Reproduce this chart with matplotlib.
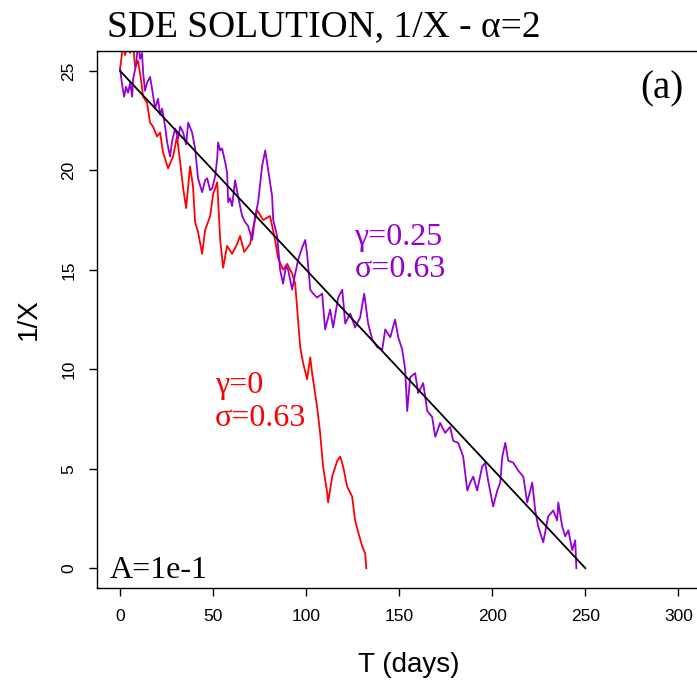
import matplotlib
matplotlib.use("Agg")
import matplotlib.pyplot as plt

# gamma = 0 path (red)
red_t = [0.0, 1.6, 2.7, 4.3, 5.4, 6.5, 8.1, 9.7, 11.3, 12.4, 14.5, 16.1, 17.7, 19.9,
         21.5, 23.1, 25.8, 28.5, 30.6, 32.3, 33.9, 35.5, 37.6, 39.2, 40.3, 41.9,
         44.1, 45.7, 48.4, 50.0, 52.2, 53.8, 55.4, 57.5, 60.2, 62.9, 64.5, 66.7,
         69.9, 71.5, 73.7, 76.9, 80.6, 83.3, 84.9, 87.6, 89.8, 92.5, 94.1, 95.2,
         96.8, 98.4, 100.5, 102.2, 103.2, 105.9, 107.5, 109.1, 111.3, 111.8, 114.0,
         116.7, 118.3, 119.9, 122.0, 124.7, 126.3, 128.0, 130.1, 131.7, 132.3]
red_v = [25.1, 26.3, 25.8, 26.6, 25.9, 26.8, 25.2, 25.5, 24.5, 23.7, 23.4, 22.4, 22.2, 21.7,
         21.9, 20.9, 20.1, 20.7, 21.7, 20.4, 19.1, 18.1, 20.2, 19.2, 17.4, 16.9,
         15.8, 17.0, 17.7, 18.8, 19.4, 16.5, 15.1, 16.2, 15.8, 16.3, 16.7, 15.9,
         16.3, 17.1, 18.0, 17.5, 17.7, 16.5, 15.6, 15.0, 15.3, 14.8, 14.3, 13.0,
         11.1, 10.3, 9.5, 10.6, 9.8, 8.1, 6.8, 5.1, 3.8, 3.3, 4.6,
         5.4, 5.6, 5.1, 4.1, 3.6, 2.4, 1.8, 1.1, 0.75, 0.0]

# gamma = 0.25 path (purple)
pur_t = [0.0, 1.1, 2.2, 3.2, 4.3, 5.4, 6.5, 7.0, 8.6, 9.7, 10.8, 11.8, 12.4, 13.4,
         14.5, 16.1, 17.2, 18.8, 20.4, 21.5, 22.6, 24.2, 25.3, 26.9, 28.0, 29.6,
         31.2, 32.3, 33.9, 35.5, 36.6, 38.7, 40.3, 41.9, 44.1, 45.7, 46.8, 48.4,
         49.5, 51.1, 52.2, 52.7, 53.8, 54.8, 56.5, 57.5, 58.1, 59.1, 60.2, 61.8,
         63.4, 65.6, 67.2, 68.8, 71.0, 72.6, 74.2, 76.3, 78.0, 79.6, 80.6, 81.7,
         82.3, 84.4, 86.0, 87.6, 89.2, 90.3, 92.5, 94.1, 95.7, 97.8, 99.5, 100.5,
         102.2, 103.8, 105.9, 108.6, 110.2, 112.9, 114.5, 117.2, 119.4, 121.0,
         123.7, 126.3, 129.0, 131.2, 133.3, 135.5, 138.2, 140.9, 142.5, 145.2,
         147.8, 149.5, 151.6, 153.2, 154.3, 155.9, 158.6, 160.2, 162.9, 165.1,
         167.7, 169.4, 172.0, 174.7, 177.4, 179.0, 181.7, 184.4, 186.6, 188.2,
         189.8, 191.9, 194.6, 196.2, 197.8, 200.5, 202.7, 204.3, 205.4, 207.0,
         208.6, 211.3, 214.0, 216.7, 218.8, 221.5, 223.1, 224.7, 227.4, 230.1,
         232.8, 234.9, 235.5, 237.6, 239.2, 240.9, 243.0, 244.6, 245.2]
pur_v = [25.1, 24.3, 23.7, 24.2, 23.9, 24.4, 23.7, 24.6, 25.3, 26.4, 25.6, 25.9, 24.9, 24.0,
         24.4, 24.7, 24.1, 23.1, 23.6, 22.8, 23.1, 22.2, 21.4, 20.7, 21.5, 22.1,
         21.6, 22.2, 21.9, 21.3, 22.4, 21.9, 21.1, 19.6, 18.9, 19.5, 19.6, 19.0,
         19.1, 19.7, 20.6, 21.4, 21.0, 21.1, 20.4, 19.9, 18.4, 18.6, 18.2, 19.5,
         18.7, 17.7, 17.4, 17.2, 16.5, 17.7, 18.4, 20.2, 21.0, 20.0, 19.4, 18.7,
         17.5, 16.7, 15.0, 14.3, 15.2, 15.0, 14.0, 14.8, 15.5, 16.1, 16.5, 15.8,
         14.0, 13.8, 13.6, 13.8, 12.0, 13.0, 12.1, 13.6, 14.0, 12.3,
         12.8, 12.1, 12.6, 13.8, 12.3, 11.5, 11.1, 11.0, 12.0, 11.6,
         12.5, 11.6, 11.0, 10.0, 7.9, 9.6, 9.8, 8.8, 9.3, 7.9,
         7.6, 6.6, 7.3, 6.8, 7.1, 6.4, 6.3, 5.6, 3.9, 4.3,
         4.6, 3.9, 5.1, 5.3, 4.4, 3.1, 3.9, 4.3, 5.6, 6.3,
         5.4, 5.3, 4.9, 4.6, 3.3, 4.3, 2.9, 2.1, 1.3, 2.6,
         2.9, 2.4, 3.3, 2.1, 1.6, 1.9, 0.9, 1.4, 0.0]

# deterministic solution
det_t = [0, 250]
det_v = [25, 0]

xticks = [0, 50, 100, 150, 200, 250, 300]
yticks = [0, 5, 10, 15, 20, 25]

serif = "Liberation Serif"
sans = "Liberation Sans"

fig = plt.figure(figsize=(6.97, 6.83), dpi=100)
ax = fig.add_axes([97/697, 95/683, 623/697, 537/683])

ax.plot(red_t, red_v, color="#ff0000", lw=1.3)
ax.plot(pur_t, pur_v, color="#9400d3", lw=1.3)
ax.plot(det_t, det_v, color="black", lw=1.3)

ax.set_xlim(-12.4, 322.4)
ax.set_ylim(-1.0, 26.0)
ax.set_xticks(xticks)
ax.set_yticks(yticks)
ax.tick_params(direction="out", length=6, width=1, labelsize=12.5, pad=9)
for lab in ax.get_xticklabels() + ax.get_yticklabels():
    lab.set_family(sans)
for lab in ax.get_yticklabels():
    lab.set_rotation(90)
    lab.set_va("center")
for s in ax.spines.values():
    s.set_linewidth(1.0)

ax.set_xlabel("T (days)", family=sans, fontsize=20, labelpad=20)
ax.set_ylabel("1/X", family=sans, fontsize=20, labelpad=14)

fig.text(107/697, 1 - 27/683, "SDE SOLUTION, 1/X - \u03b1=2", family=serif,
         fontsize=27, ha="left", va="center")

ax.text(291, 24.1, "(a)", family=serif, fontsize=28, ha="center", va="center")
ax.text(-5.4, -0.1, "A=1e-1", family=serif, fontsize=23, ha="left", va="center")
ax.text(51, 9.2, "\u03b3=0", family=serif, fontsize=23, color="#ff0000", ha="left", va="center")
ax.text(51, 7.5, "\u03c3=0.63", family=serif, fontsize=23, color="#ff0000", ha="left", va="center")
ax.text(126, 16.6, "\u03b3=0.25", family=serif, fontsize=23, color="#9400d3", ha="left", va="center")
ax.text(126, 15.0, "\u03c3=0.63", family=serif, fontsize=23, color="#9400d3", ha="left", va="center")

fig.savefig("out.png", dpi=100)
